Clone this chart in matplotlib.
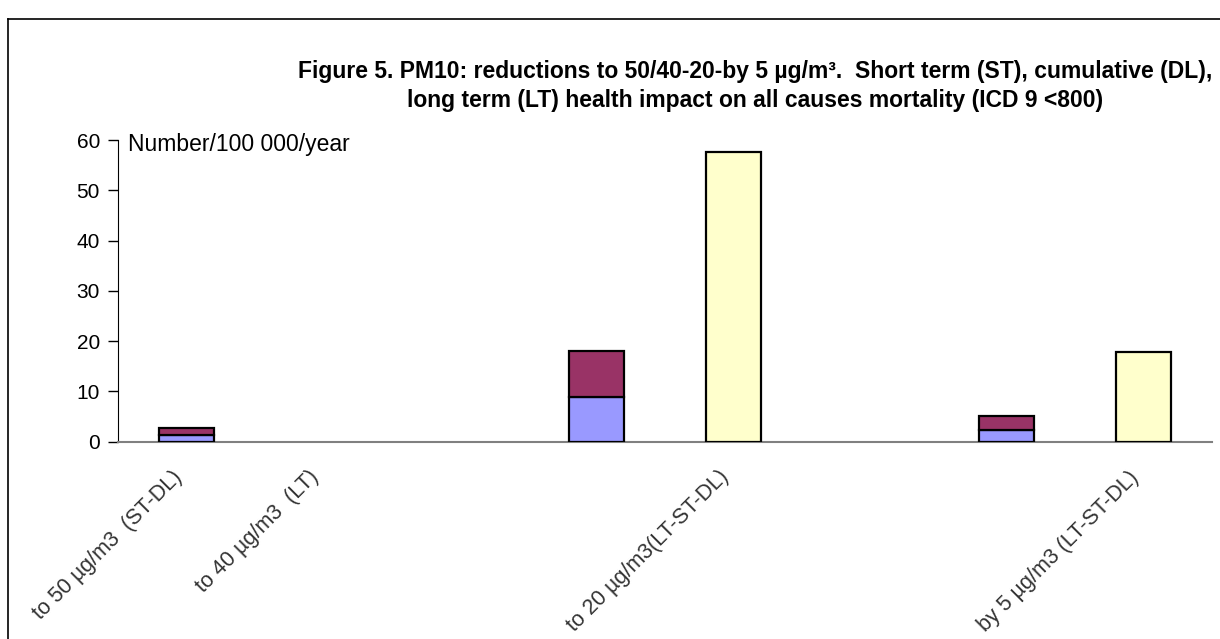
import matplotlib
matplotlib.use("Agg")
import matplotlib.pyplot as plt
from matplotlib.lines import Line2D
from matplotlib.transforms import ScaledTranslation
import numpy as np

plt.rcParams['font.family'] = ['Liberation Sans', 'DejaVu Sans']

# Data: 8 category slots, labels only on some of them
slot_labels = ["to 50 µg/m3  (ST-DL)", "to 40 µg/m3  (LT)", "", "", "to 20 µg/m3(LT-ST-DL)", "", "", "by 5 µg/m3 (LT-ST-DL)"]
st_values = [1.3, 0, 0, 8.8, 0, 0, 2.4, 0]      # short term (blue)
dl_values = [1.5, 0, 0, 9.2, 0, 0, 2.7, 0]      # cumulative (purple), stacked on ST
lt_values = [0, 0, 0, 0, 57.7, 0, 0, 17.8]      # long term (yellow)
st_slots = [0, 3, 6]
lt_slots = [4, 7]

title = ("Figure 5. PM10: reductions to 50/40-20-by 5 µg/m³.  Short term (ST), cumulative (DL),\n"
         "long term (LT) health impact on all causes mortality (ICD 9 <800)")
unit_text = "Number/100 000/year"

fig = plt.figure(figsize=(12.2, 6.39), dpi=100)
ax = fig.add_axes([118/1220, 197.3/639, (1211.7-118)/1220, (441.7-140)/639])

x = np.arange(len(slot_labels))
st = np.array(st_values)
dl = np.array(dl_values)
lt = np.array(lt_values)
w = 0.4

ax.bar(x[st_slots], st[st_slots], width=w, color="#9999FF", edgecolor="black", linewidth=1.6, zorder=3)
ax.bar(x[st_slots], dl[st_slots], bottom=st[st_slots], width=w, color="#993366", edgecolor="black", linewidth=1.6, zorder=3)
ax.bar(x[lt_slots], lt[lt_slots], width=w, color="#FFFFCC", edgecolor="black", linewidth=1.6, zorder=3)

ax.set_xlim(-0.5, len(slot_labels) - 0.5)
ax.set_ylim(0, 60)
ax.set_yticks(range(0, 61, 10))
ax.tick_params(axis='y', labelsize=15, length=7, width=1, pad=6, direction='out', colors='black')
ax.set_xticks(x)
ax.set_xticklabels(slot_labels, rotation=45, ha='right', va='top', rotation_mode='anchor',
                   fontsize=15.5, color='#333333')
ax.tick_params(axis='x', length=0, pad=18)
# nudge rotated labels a little to the left, as in the original
for lbl in ax.get_xticklabels():
    lbl.set_transform(lbl.get_transform() + ScaledTranslation(-0.15, 0, fig.dpi_scale_trans))

for s in ['top', 'right']:
    ax.spines[s].set_visible(False)
ax.spines['left'].set_color('black')
ax.spines['bottom'].set_color('#808080')
ax.spines['bottom'].set_linewidth(1.5)

fig.text(128/1220, 1 - 151/639, unit_text, fontsize=16.5, va='baseline', ha='left')

fig.text(755/1220, 1 - 86/639, title, fontsize=16.5, fontweight='bold', ha='center', va='center',
         linespacing=1.35)

# chart frame (top and left edges visible)
fig.add_artist(Line2D([8/1220, 8/1220], [0, 1 - 19/639], transform=fig.transFigure, color='black', lw=1.2))
fig.add_artist(Line2D([8/1220, 1], [1 - 19/639, 1 - 19/639], transform=fig.transFigure, color='black', lw=1.2))

fig.savefig("out.png", dpi=100)
